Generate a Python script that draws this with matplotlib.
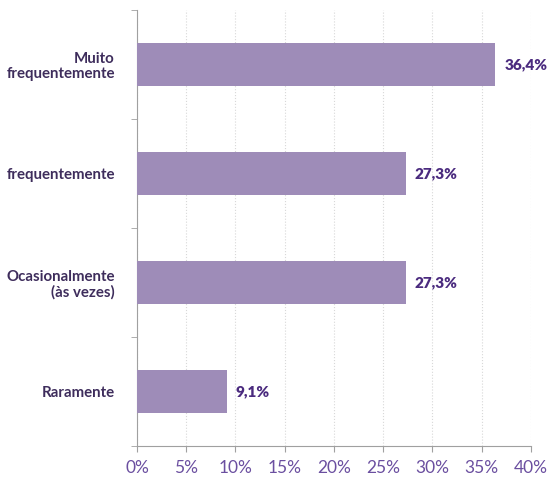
import matplotlib.pyplot as plt
from matplotlib.ticker import FuncFormatter

categorias = ["Muito\nfrequentemente", "frequentemente", "Ocasionalmente\n(às vezes)", "Raramente"]
valores = [36.4, 27.3, 27.3, 9.1]
rotulos = ["36,4%", "27,3%", "27,3%", "9,1%"]
ticks_x = [0, 5, 10, 15, 20, 25, 30, 35, 40]

plt.rcParams['font.family'] = ['Lato', 'DejaVu Sans']

fig = plt.figure(figsize=(5.51, 4.8), dpi=100)
ax = fig.add_axes([0.2486, 0.0708, 0.715, 0.9082])

pos = list(range(len(categorias)))
ax.barh(pos, valores, height=0.4, color="#9e8cb8", zorder=3)
for p, v, r in zip(pos, valores, rotulos):
    ax.text(v + 0.9, p, r, va="center", ha="left", fontsize=11,
            fontweight="heavy", color="#4b2b7f")

ax.set_ylim(3.5, -0.5)
ax.set_xlim(0, 40)
ax.set_xticks(ticks_x)
ax.xaxis.set_major_formatter(FuncFormatter(lambda x, _: f"{x:.0f}%"))
ax.tick_params(axis="x", colors="#a0a0a0", labelcolor="#6b4fa0", labelsize=12.5,
               length=4, pad=6)

ax.set_yticks(pos)
ax.set_yticklabels(categorias, fontsize=10.8, fontweight="bold", color="#3e2d5c",
                   linespacing=1.1)
ax.set_yticks([-0.5, 0.5, 1.5, 2.5, 3.5], minor=True)
ax.tick_params(axis="y", which="major", length=0, pad=16)
ax.tick_params(axis="y", which="minor", length=4, color="#a0a0a0")

ax.grid(axis="x", color="#d8d8d8", linestyle=":", linewidth=0.8, zorder=0)
for s in ["top", "right"]:
    ax.spines[s].set_visible(False)
ax.spines["left"].set_color("#a0a0a0")
ax.spines["bottom"].set_color("#a0a0a0")

fig.savefig("out.png", dpi=100)
